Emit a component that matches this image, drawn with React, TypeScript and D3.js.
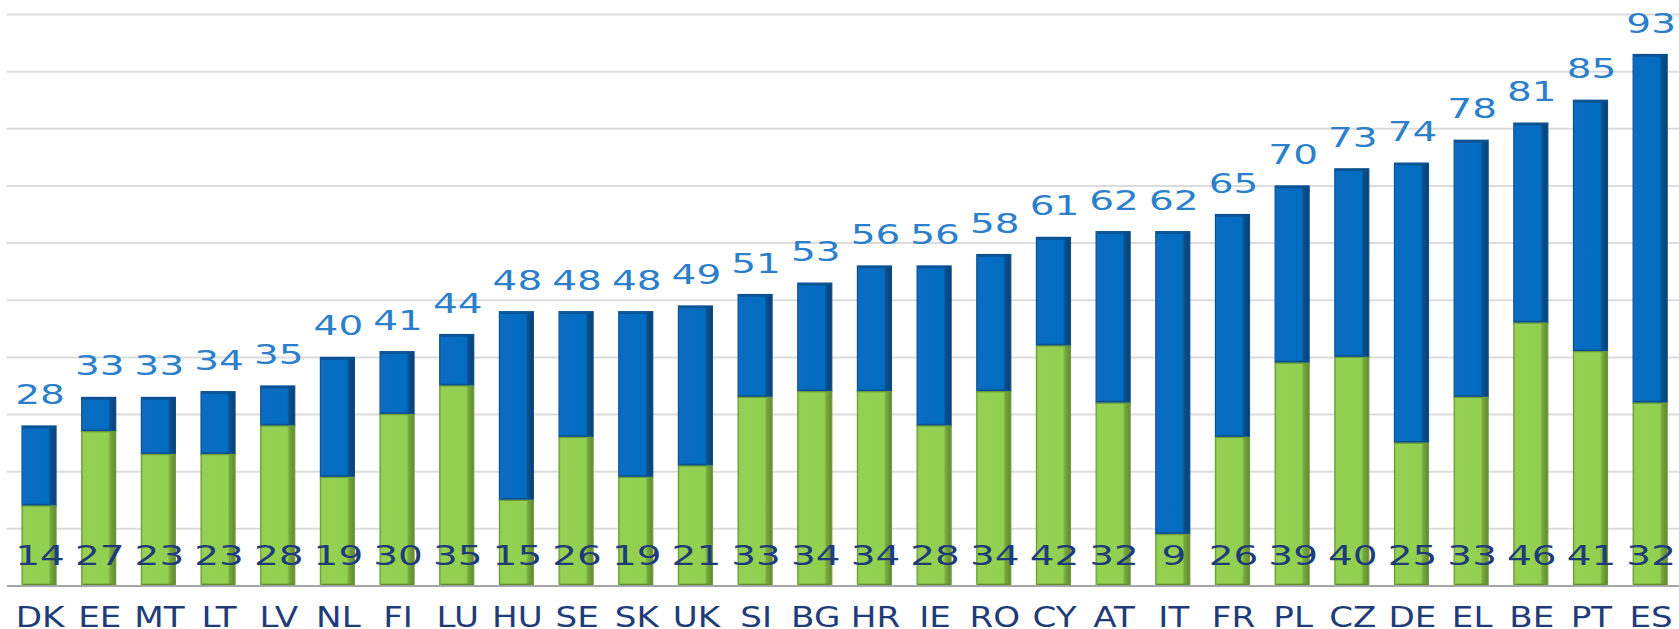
import React from "react";
import * as d3 from "d3";

const countries = ["DK","EE","MT","LT","LV","NL","FI","LU","HU","SE","SK","UK","SI","BG","HR","IE","RO","CY","AT","IT","FR","PL","CZ","DE","EL","BE","PT","ES"];
const greenValues = [14,27,23,23,28,19,30,35,15,26,19,21,33,34,34,28,34,42,32,9,26,39,40,25,33,46,41,32];
const totalValues = [28,33,33,34,35,40,41,44,48,48,48,49,51,53,56,56,58,61,62,62,65,70,73,74,78,81,85,93];
const gridTicks = [10,20,30,40,50,60,70,80,90,100];

const W = 1679, H = 629;
const FONT = "'DejaVu Sans', Verdana, sans-serif";

export default function App() {
  const x = d3.scaleBand<string>().domain(countries).range([9.2, 1680]).paddingInner(0.43).paddingOuter(0.215);
  const y = d3.scaleLinear().domain([0, 100]).range([586, 14.5]);
  const bw = x.bandwidth();
  const y0 = y(0);
  const SX = 1.5;

  return (
    <svg width={W} height={H} style={{ position: "fixed", left: 0, top: 0, background: "#fff" }}>
      <defs>
        <linearGradient id="gBlue" x1="0" x2="1" y1="0" y2="0">
          <stop offset="0" stopColor="#1a6fbf" />
          <stop offset="0.06" stopColor="#0a6cc2" />
          <stop offset="0.78" stopColor="#006dc0" />
          <stop offset="0.84" stopColor="#0a4f8e" />
          <stop offset="1" stopColor="#0b3f72" />
        </linearGradient>
        <linearGradient id="gGreen" x1="0" x2="1" y1="0" y2="0">
          <stop offset="0" stopColor="#84bf45" />
          <stop offset="0.06" stopColor="#94d152" />
          <stop offset="0.78" stopColor="#92d050" />
          <stop offset="0.84" stopColor="#78a840" />
          <stop offset="1" stopColor="#5f8a2f" />
        </linearGradient>
      </defs>
      {gridTicks.map((t) => (
        <line key={t} x1={7} x2={W} y1={y(t)} y2={y(t)} stroke="#dcdcdc" strokeWidth={2} />
      ))}
      {countries.map((c, i) => {
        const x0 = x(c)!;
        const g = greenValues[i];
        const tot = totalValues[i];
        const yg = y(g);
        const yt = y(tot);
        const cx = x0 + bw / 2;
        return (
          <g key={c}>
            <rect x={x0} y={yt} width={bw} height={yg - yt} fill="url(#gBlue)" stroke="#0b4f8f" strokeWidth={1.2} />
            <line x1={x0 + 1} x2={x0 + bw - 1} y1={yt + 1.5} y2={yt + 1.5} stroke="#0b4f8f" strokeWidth={1.5} />
            <line x1={x0 + 1} x2={x0 + bw - 1} y1={yg - 1.5} y2={yg - 1.5} stroke="#0b4f8f" strokeWidth={1.5} />
            <rect x={x0} y={yg} width={bw} height={y0 - yg} fill="url(#gGreen)" stroke="#6e9c3a" strokeWidth={1.2} />
            <line x1={x0 + 1} x2={x0 + bw - 1} y1={y0 - 1.5} y2={y0 - 1.5} stroke="#5f8a2f" strokeWidth={1.5} />
            <text transform={`translate(${cx + 1},${yt - 22}) scale(${SX},1)`} textAnchor="middle" fontFamily={FONT} fontSize={26} fill="#2b7fcb">{tot}</text>
            <text transform={`translate(${cx + 1},${565}) scale(${SX},1)`} textAnchor="middle" fontFamily={FONT} fontSize={26} fill="#1f3c78">{g}</text>
            <text transform={`translate(${cx + 1},${627}) scale(1.22,1)`} textAnchor="middle" fontFamily={FONT} fontSize={28} fill="#1f3c78">{c}</text>
          </g>
        );
      })}
      <line x1={7} x2={W} y1={y0} y2={y0} stroke="#a6a6a6" strokeWidth={2} />
    </svg>
  );
}
